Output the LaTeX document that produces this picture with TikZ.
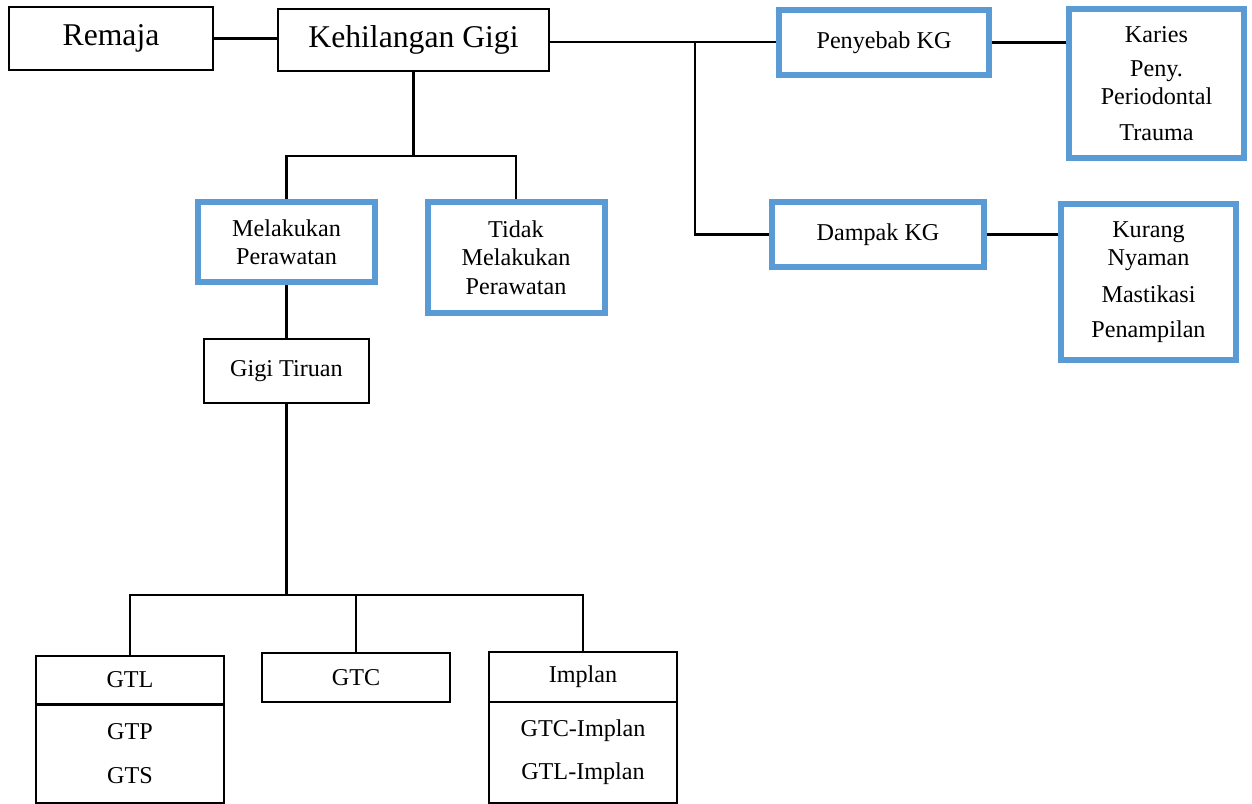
\documentclass[tikz,border=0pt]{standalone}
\usepackage{fontspec}
\setmainfont{Liberation Serif}
\usepackage{tikz}
\usetikzlibrary{calc}
\definecolor{kgblue}{RGB}{91,155,213}
\newdimen\px
\px=0.6pt

\begin{document}
\begin{tikzpicture}[x=0.6pt,y=-0.6pt,
  hitam/.style={draw=black, line width=2.6\px, inner sep=0pt, align=center, font=\fontsize{14.5}{17}\selectfont},
  biru/.style={draw=kgblue, line width=6\px, inner sep=0pt, align=center, font=\fontsize{14.5}{17}\selectfont},
  besar/.style={font=\fontsize{19}{22}\selectfont},
  garis/.style={line width=2.6\px}]
\useasboundingbox (0,0) rectangle (1252,804);
% baris atas
\node[hitam,besar,minimum width=204\px,minimum height=63\px] (remaja) at (111,38.5) {Remaja};
\node[hitam,besar,minimum width=271\px,minimum height=62\px] (kg) at (413.5,40) {Kehilangan Gigi};
\node[biru,minimum width=210\px,minimum height=65\px] (penyebab) at (884,42.5) {Penyebab KG};
\node[biru,minimum width=175\px,minimum height=149\px] (karies) at (1156.5,83.5) {Karies\\[3.4pt]Peny.\\Periodontal\\[4.6pt]Trauma};
\node[biru,minimum width=212\px,minimum height=65\px] (dampak) at (878,234.5) {Dampak KG};
\node[biru,minimum width=175\px,minimum height=156\px] (kurang) at (1148.5,282) {Kurang\\Nyaman\\[5.2pt]Mastikasi\\[4pt]Penampilan};
% perawatan
\node[biru,minimum width=177\px,minimum height=80\px] (melakukan) at (286.5,242) {Melakukan\\Perawatan};
\node[biru,minimum width=177\px,minimum height=111\px] (tidak) at (516,257.5) {Tidak\\Melakukan\\Perawatan};
\node[hitam,minimum width=165\px,minimum height=64\px] (gigi) at (286.5,371) {Gigi Tiruan};
% jenis gigi tiruan
\node[hitam,minimum width=188\px,minimum height=48\px] (gtl) at (130,680) {GTL};
\node[hitam,minimum width=188\px,minimum height=98\px] (gtlsub) at (130,754) {GTP\\[9.4pt]GTS};
\node[hitam,minimum width=188\px,minimum height=49\px] (gtc) at (356,677.5) {GTC};
\node[hitam,minimum width=188\px,minimum height=50\px] (implan) at (583,677) {Implan};
\node[hitam,minimum width=188\px,minimum height=101\px] (implansub) at (583,752.5) {GTC-Implan\\[8.8pt]GTL-Implan};

\coordinate (jr) at (695,42);
\coordinate (jm) at (413,156);
\coordinate (jb) at (287,595);

\draw[garis] (remaja.east) -- (remaja.east -| kg.west);
\draw[garis] (kg.east |- jr) -- (jr) -- (jr -| penyebab.west);
\draw[garis] (jr) |- (dampak.west);
\draw[garis] (penyebab.east) -- (penyebab.east -| karies.west);
\draw[garis] (dampak.east) -- (dampak.east -| kurang.west);
\draw[garis] (kg.south) -- (kg.south |- jm);
\draw[garis] (melakukan.north) |- (jm) -| (tidak.north);
\draw[garis] (melakukan.south) -- (gigi.north);
\draw[garis] (gigi.south) -- (gigi.south |- jb);
\draw[garis] (gtl.north) |- (jb) -| (implan.north);
\draw[garis] (gtc.north) -- (gtc.north |- jb);
\end{tikzpicture}
\end{document}
